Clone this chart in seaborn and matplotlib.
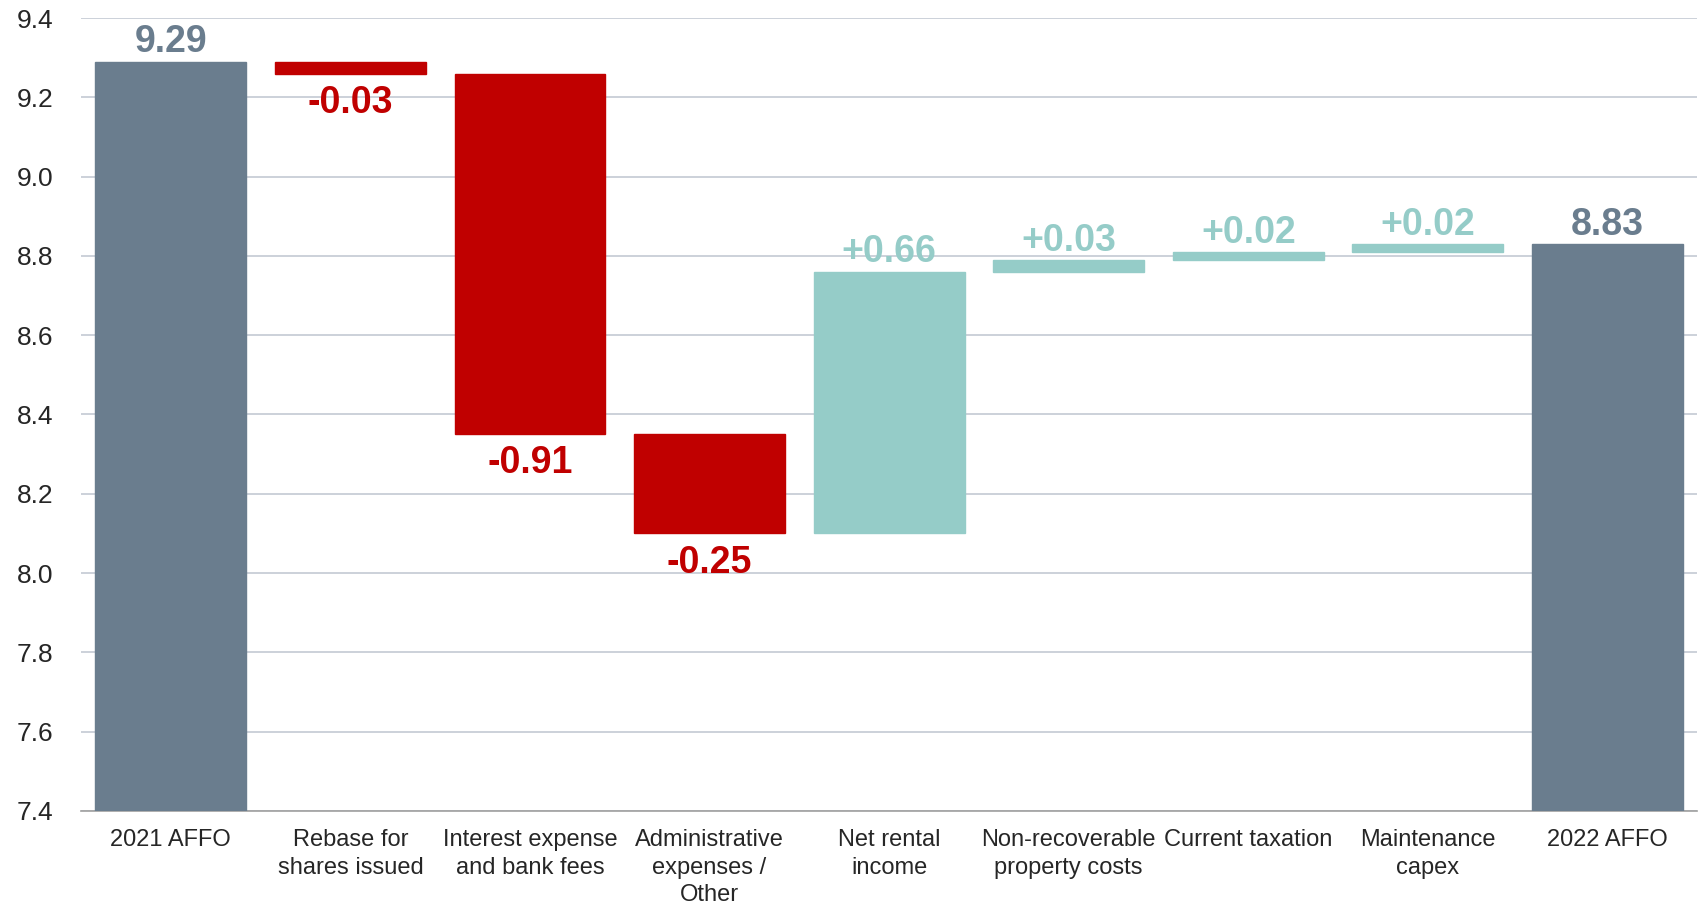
import matplotlib
matplotlib.use("Agg")
import matplotlib.pyplot as plt
import numpy as np
import pandas as pd
import seaborn as sns

sns.set_style("white")
plt.rcParams["font.family"] = ["Liberation Sans", "DejaVu Sans"]

categories = ["2021 AFFO", "Rebase for\nshares issued", "Interest expense\nand bank fees",
              "Administrative\nexpenses /\nOther", "Net rental\nincome",
              "Non-recoverable\nproperty costs", "Current taxation",
              "Maintenance\ncapex", "2022 AFFO"]
start_value = 9.29
deltas = [-0.03, -0.91, -0.25, 0.66, 0.03, 0.02, 0.02]
end_value = 8.83

GREY = "#6a7d8e"
RED = "#c00000"
TEAL = "#95ccc8"
BASE = 7.4

# waterfall levels
tops, bottoms, colors, labels, label_up = [], [], [], [], []
tops.append(start_value); bottoms.append(BASE); colors.append(GREY)
labels.append(f"{start_value:.2f}"); label_up.append(True)
level = start_value
for d in deltas:
    new = round(level + d, 2)
    tops.append(max(level, new)); bottoms.append(min(level, new))
    colors.append(RED if d < 0 else TEAL)
    labels.append(f"{d:+.2f}"); label_up.append(d > 0)
    level = new
tops.append(end_value); bottoms.append(BASE); colors.append(GREY)
labels.append(f"{end_value:.2f}"); label_up.append(True)

df = pd.DataFrame({"cat": categories,
                   "height": np.array(tops) - np.array(bottoms),
                   "bottom": bottoms})

fig = plt.figure(figsize=(17.03, 9.06), dpi=100)
ax = fig.add_axes([0.0476, 0.105, 0.949, 0.875])

sns.barplot(data=df, x="cat", y="height", order=categories, bottom=df["bottom"].values,
            width=0.84, color=GREY, saturation=1, errorbar=None, ax=ax, zorder=3)
for p, c in zip(ax.patches, colors):
    p.set_facecolor(c)
    p.set_edgecolor(c)

for i, (t, b, c, lab, up) in enumerate(zip(tops, bottoms, colors, labels, label_up)):
    if up:
        ax.annotate(lab, (i, t), xytext=(0, 1), textcoords="offset points",
                    ha="center", va="bottom", fontsize=27, fontweight="bold", color=c)
    else:
        ax.annotate(lab, (i, b), xytext=(0, -8), textcoords="offset points",
                    ha="center", va="top", fontsize=27, fontweight="bold", color=c)

ax.set_ylim(7.4, 9.4)
ax.set_xlim(-0.5, len(categories) - 0.5)
ax.set_yticks(np.arange(7.4, 9.41, 0.2))
ax.set_yticklabels([f"{v:.1f}" for v in np.arange(7.4, 9.41, 0.2)], fontsize=19)
ax.yaxis.grid(True, color="#c3cad3", linewidth=1.2, zorder=0)
ax.set_axisbelow(True)
ax.tick_params(axis="y", length=0, pad=20)
ax.tick_params(axis="x", which="major", length=0, pad=13)
ax.set_xticks(np.arange(-0.5, len(categories), 1), minor=True)
ax.tick_params(axis="x", which="minor", length=6, color="#a0a0a0", width=1)
ax.set_xticklabels(categories, fontsize=17, linespacing=1.34, va="top")
ax.set_xlabel("")
ax.set_ylabel("")
for s in ["top", "right", "left"]:
    ax.spines[s].set_visible(False)
ax.spines["bottom"].set_color("#a0a0a0")
ax.spines["bottom"].set_linewidth(1.2)

fig.savefig("out.png", dpi=100)
